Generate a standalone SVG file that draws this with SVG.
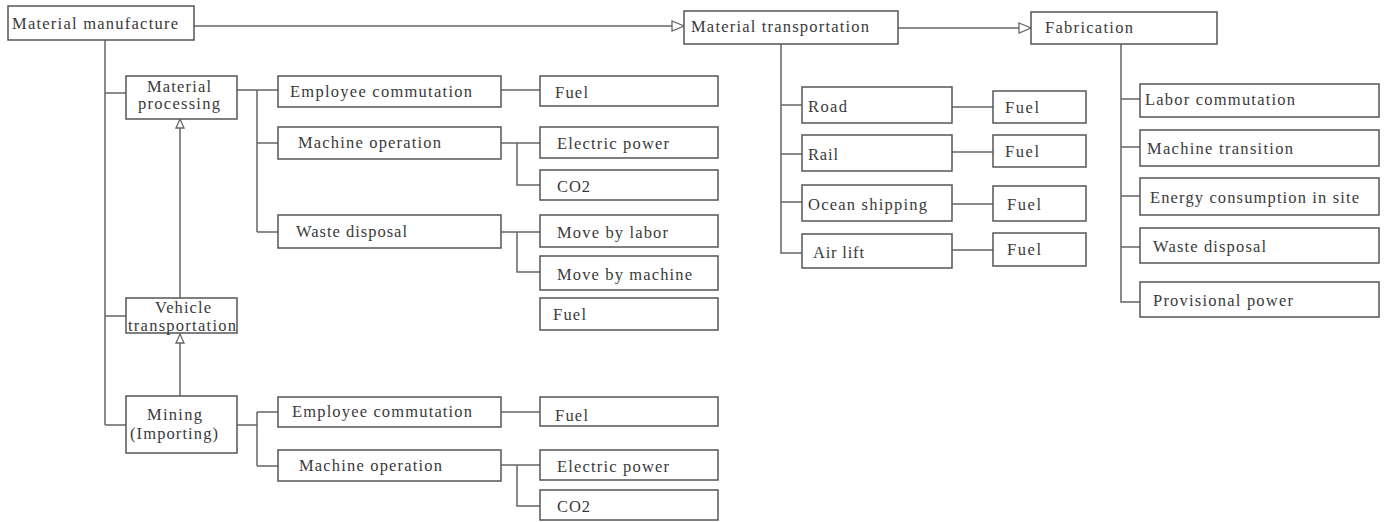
<svg xmlns="http://www.w3.org/2000/svg" width="1388" height="522" viewBox="0 0 1388 522">
<style>
.b{fill:#fff;stroke:#555;stroke-width:1.5}
.c{fill:none;stroke:#666;stroke-width:1.5}
.t{font-family:"Liberation Serif","Times New Roman",serif;font-size:16.5px;fill:#3a3a3a}
</style>
<defs>
<marker id="ah" viewBox="0 0 12 10" refX="12" refY="5" markerWidth="12" markerHeight="10" markerUnits="userSpaceOnUse" orient="auto" overflow="visible">
<path d="M0,0 L12,5 L0,10 z" fill="#fff" stroke="#666" stroke-width="1.3"/>
</marker>
<marker id="as" viewBox="0 0 9 8" refX="9" refY="4" markerWidth="9" markerHeight="8" markerUnits="userSpaceOnUse" orient="auto" overflow="visible">
<path d="M0,0 L9,4 L0,8 z" fill="#fff" stroke="#666" stroke-width="1.3"/>
</marker>
</defs>
<rect width="1388" height="522" fill="#fff"/>
<g id="connectors">
<line class="c" x1="194" y1="26" x2="684" y2="26" marker-end="url(#ah)"/>
<line class="c" x1="898" y1="28" x2="1031" y2="28" marker-end="url(#ah)"/>
<path class="c" d="M105,40 V425 M105,93 H126 M105,316 H126 M105,425 H126"/>
<line class="c" x1="180" y1="298" x2="180" y2="119" marker-end="url(#as)"/>
<line class="c" x1="180" y1="396" x2="180" y2="334" marker-end="url(#as)"/>
<path class="c" d="M237,90 H278 M257,90 V232 M257,143 H278 M257,232 H278"/>
<path class="c" d="M501,90 H540"/>
<path class="c" d="M501,143 H540 M517,143 V185 H540"/>
<path class="c" d="M501,232 H540 M517,232 V272 H540"/>
<path class="c" d="M237,425 H257 M257,412 V466 M257,412 H278 M257,466 H278"/>
<path class="c" d="M501,412 H540"/>
<path class="c" d="M501,465 H540 M517,465 V506 H540"/>
<path class="c" d="M781,44 V253 H802 M781,105 H802 M781,154 H802 M781,202 H802"/>
<path class="c" d="M952,107 H993 M952,152 H993 M952,204 H993 M952,250 H993"/>
<path class="c" d="M1121,44 V302 H1140 M1121,99 H1140 M1121,147 H1140 M1121,196 H1140 M1121,247 H1140"/>
</g>
<g id="material-manufacture"><rect class="b" x="8" y="6" width="186" height="34"/><text class="t" x="12" y="29" textLength="166" lengthAdjust="spacing">Material manufacture</text></g>
<g id="material-transportation"><rect class="b" x="684" y="11" width="214" height="33"/><text class="t" x="691" y="32" textLength="178" lengthAdjust="spacing">Material transportation</text></g>
<g id="fabrication"><rect class="b" x="1031" y="12" width="186" height="32"/><text class="t" x="1045" y="33" textLength="88" lengthAdjust="spacing">Fabrication</text></g>
<g id="material-processing"><rect class="b" x="126" y="76" width="111" height="43"/><text class="t" x="147" y="92" textLength="64" lengthAdjust="spacing">Material</text><text class="t" x="138" y="109" textLength="82" lengthAdjust="spacing">processing</text></g>
<g id="vehicle-transportation"><rect class="b" x="126" y="298" width="111" height="35"/><text class="t" x="155" y="313" textLength="56" lengthAdjust="spacing">Vehicle</text><text class="t" x="128" y="331" textLength="108" lengthAdjust="spacing">transportation</text></g>
<g id="mining"><rect class="b" x="126" y="396" width="111" height="57"/><text class="t" x="147" y="420" textLength="55" lengthAdjust="spacing">Mining</text><text class="t" x="130" y="439" textLength="88" lengthAdjust="spacing">(Importing)</text></g>
<g id="mp-employee-commutation"><rect class="b" x="278" y="76" width="223" height="31"/><text class="t" x="290" y="97" textLength="182" lengthAdjust="spacing">Employee commutation</text></g>
<g id="mp-machine-operation"><rect class="b" x="278" y="127" width="223" height="32"/><text class="t" x="298" y="148" textLength="143" lengthAdjust="spacing">Machine operation</text></g>
<g id="mp-waste-disposal"><rect class="b" x="278" y="215" width="223" height="33"/><text class="t" x="296" y="237" textLength="111" lengthAdjust="spacing">Waste disposal</text></g>
<g id="mp-fuel-1"><rect class="b" x="540" y="76" width="178" height="30"/><text class="t" x="555" y="98" textLength="33" lengthAdjust="spacing">Fuel</text></g>
<g id="mp-electric-power"><rect class="b" x="540" y="127" width="178" height="31"/><text class="t" x="557" y="149" textLength="112" lengthAdjust="spacing">Electric power</text></g>
<g id="mp-co2"><rect class="b" x="540" y="170" width="178" height="30"/><text class="t" x="557" y="192" textLength="33" lengthAdjust="spacing">CO2</text></g>
<g id="move-by-labor"><rect class="b" x="540" y="215" width="178" height="32"/><text class="t" x="557" y="238" textLength="111" lengthAdjust="spacing">Move by labor</text></g>
<g id="move-by-machine"><rect class="b" x="540" y="256" width="178" height="34"/><text class="t" x="557" y="280" textLength="135" lengthAdjust="spacing">Move by machine</text></g>
<g id="mp-fuel-2"><rect class="b" x="540" y="298" width="178" height="32"/><text class="t" x="553" y="320" textLength="33" lengthAdjust="spacing">Fuel</text></g>
<g id="mi-employee-commutation"><rect class="b" x="278" y="397" width="223" height="30"/><text class="t" x="292" y="417" textLength="180" lengthAdjust="spacing">Employee commutation</text></g>
<g id="mi-machine-operation"><rect class="b" x="278" y="450" width="223" height="31"/><text class="t" x="299" y="471" textLength="143" lengthAdjust="spacing">Machine operation</text></g>
<g id="mi-fuel"><rect class="b" x="540" y="397" width="178" height="29"/><text class="t" x="555" y="421" textLength="33" lengthAdjust="spacing">Fuel</text></g>
<g id="mi-electric-power"><rect class="b" x="540" y="450" width="178" height="30"/><text class="t" x="557" y="472" textLength="112" lengthAdjust="spacing">Electric power</text></g>
<g id="mi-co2"><rect class="b" x="540" y="490" width="178" height="30"/><text class="t" x="557" y="512" textLength="33" lengthAdjust="spacing">CO2</text></g>
<g id="road"><rect class="b" x="802" y="87" width="150" height="36"/><text class="t" x="808" y="112" textLength="39" lengthAdjust="spacing">Road</text></g>
<g id="rail"><rect class="b" x="802" y="135" width="150" height="36"/><text class="t" x="808" y="160" textLength="30" lengthAdjust="spacing">Rail</text></g>
<g id="ocean-shipping"><rect class="b" x="802" y="185" width="150" height="36"/><text class="t" x="808" y="210" textLength="119" lengthAdjust="spacing">Ocean shipping</text></g>
<g id="air-lift"><rect class="b" x="802" y="234" width="150" height="34"/><text class="t" x="813" y="258" textLength="51" lengthAdjust="spacing">Air lift</text></g>
<g id="road-fuel"><rect class="b" x="993" y="91" width="93" height="32"/><text class="t" x="1005" y="113" textLength="34" lengthAdjust="spacing">Fuel</text></g>
<g id="rail-fuel"><rect class="b" x="993" y="135" width="93" height="32"/><text class="t" x="1005" y="157" textLength="34" lengthAdjust="spacing">Fuel</text></g>
<g id="ocean-fuel"><rect class="b" x="993" y="186" width="93" height="35"/><text class="t" x="1007" y="210" textLength="34" lengthAdjust="spacing">Fuel</text></g>
<g id="air-fuel"><rect class="b" x="993" y="233" width="93" height="33"/><text class="t" x="1007" y="255" textLength="34" lengthAdjust="spacing">Fuel</text></g>
<g id="labor-commutation"><rect class="b" x="1140" y="84" width="239" height="33"/><text class="t" x="1145" y="105" textLength="150" lengthAdjust="spacing">Labor commutation</text></g>
<g id="machine-transition"><rect class="b" x="1140" y="130" width="239" height="36"/><text class="t" x="1147" y="154" textLength="146" lengthAdjust="spacing">Machine transition</text></g>
<g id="energy-consumption"><rect class="b" x="1140" y="178" width="239" height="37"/><text class="t" x="1150" y="203" textLength="209" lengthAdjust="spacing">Energy consumption in site</text></g>
<g id="fab-waste-disposal"><rect class="b" x="1140" y="228" width="239" height="35"/><text class="t" x="1153" y="252" textLength="113" lengthAdjust="spacing">Waste disposal</text></g>
<g id="provisional-power"><rect class="b" x="1140" y="282" width="239" height="35"/><text class="t" x="1153" y="306" textLength="140" lengthAdjust="spacing">Provisional power</text></g>
</svg>
